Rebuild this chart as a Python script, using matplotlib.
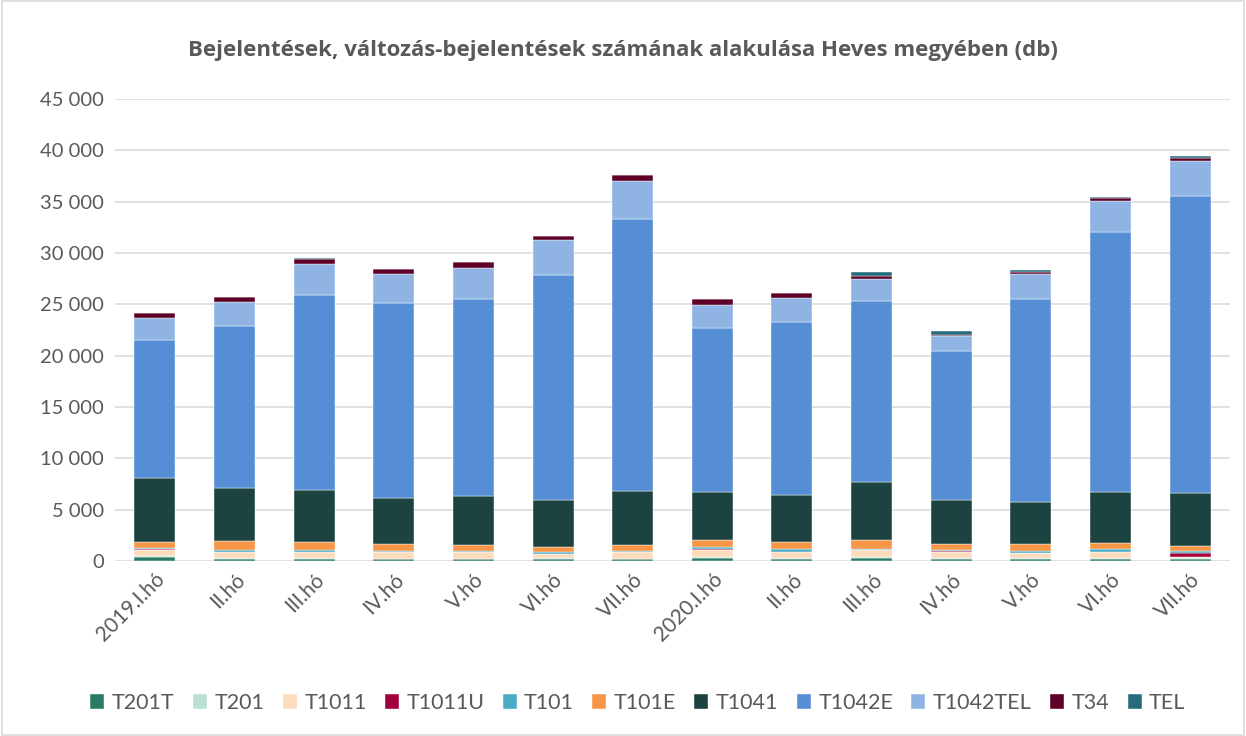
import numpy as np
import matplotlib
matplotlib.use("Agg")
import matplotlib.pyplot as plt
from matplotlib.patches import Rectangle
from matplotlib.ticker import FuncFormatter, MultipleLocator

plt.rcParams['font.family'] = ['Lato', 'DejaVu Sans']

categories = ['2019.I.hó', 'II.hó', 'III.hó', 'IV.hó', 'V.hó', 'VI.hó', 'VII.hó',
              '2020.I.hó', 'II.hó', 'III.hó', 'IV.hó', 'V.hó', 'VI.hó', 'VII.hó']

T201T = [350, 160, 200, 170, 170, 200, 170, 260, 170, 260, 170, 170, 230, 230]
T201 = [100, 100, 60, 60, 60, 50, 60, 100, 100, 100, 100, 100, 100, 60]
T1011 = [650, 580, 600, 620, 620, 450, 620, 750, 620, 680, 650, 490, 580, 100]
T1011U = [20, 10, 10, 10, 10, 10, 10, 10, 10, 10, 10, 10, 10, 390]
T101 = [150, 260, 230, 160, 160, 130, 160, 230, 230, 160, 100, 160, 230, 160]
T101E = [600, 800, 700, 650, 550, 500, 550, 680, 680, 850, 620, 680, 620, 520]
T1041 = [6230, 5190, 5100, 4480, 4730, 4610, 5230, 4670, 4590, 5640, 4300, 4140, 4930, 5140]
T1042E = [13400, 15800, 19000, 18950, 19200, 21900, 26500, 16000, 16900, 17600, 14500, 19750, 25350, 28950]
T1042TEL = [2200, 2300, 3050, 2900, 3050, 3450, 3700, 2200, 2300, 2150, 1450, 2450, 3000, 3400]
T34 = [450, 500, 450, 450, 550, 350, 600, 600, 500, 350, 100, 200, 330, 330]
TEL = [50, 50, 100, 30, 30, 30, 30, 30, 30, 350, 400, 150, 120, 120]

series_names = ['T201T', 'T201', 'T1011', 'T1011U', 'T101', 'T101E', 'T1041',
                'T1042E', 'T1042TEL', 'T34', 'TEL']
series_values = [T201T, T201, T1011, T1011U, T101, T101E, T1041,
                 T1042E, T1042TEL, T34, TEL]
colors = ['#2b7a66', '#b9e0d1', '#fddcbd', '#a3003f', '#4bacc6', '#f79646',
          '#1c4340', '#558ed5', '#8fb4e3', '#5e0028', '#276c7c']

fig = plt.figure(figsize=(12.46, 7.36), dpi=100)
ax = fig.add_axes([0.0923, 0.2378, 0.8948, 0.6277])

x = np.arange(len(categories))
bottom = np.zeros(len(categories))
for name, vals, c in zip(series_names, series_values, colors):
    v = np.array(vals, dtype=float)
    ax.bar(x, v, bottom=bottom, width=0.515, color=c, label=name,
           edgecolor='white', linewidth=0.3, zorder=3)
    bottom += v

ax.set_ylim(0, 45000)
ax.set_xlim(-0.5, len(categories) - 0.5)
ax.yaxis.set_major_locator(MultipleLocator(5000))
ax.yaxis.set_major_formatter(FuncFormatter(lambda v, p: f"{int(v):,}".replace(",", " ")))
ax.grid(axis='y', color='#d9d9d9', linewidth=1.1, zorder=0)
for s in ax.spines.values():
    s.set_visible(False)
ax.tick_params(axis='y', length=0, labelsize=14.5, colors='#595959', pad=8)
ax.set_xticks(x)
ax.set_xticklabels(categories, rotation=45, ha='right', rotation_mode='anchor')
ax.tick_params(axis='x', length=0, labelsize=15, colors='#595959', pad=6)

fig.text(0.5, 0.931, 'Bejelentések, változás-bejelentések számának alakulása Heves megyében (db)',
         ha='center', va='center', fontsize=16, fontweight='bold', color='#595959',
         family=['Open Sans', 'DejaVu Sans'])

leg = fig.legend(*ax.get_legend_handles_labels(), loc='center', bbox_to_anchor=(0.512, 0.045),
                 ncol=11, frameon=False, fontsize=15.5, handlelength=0.65, handleheight=0.65,
                 handletextpad=0.35, columnspacing=0.85, labelcolor='#595959')

fig.patches.append(Rectangle((0.002, 0.002), 0.996, 0.996, transform=fig.transFigure,
                             fill=False, edgecolor='#d9d9d9', linewidth=1.2))

fig.savefig('out.png', dpi=100, facecolor='white')
